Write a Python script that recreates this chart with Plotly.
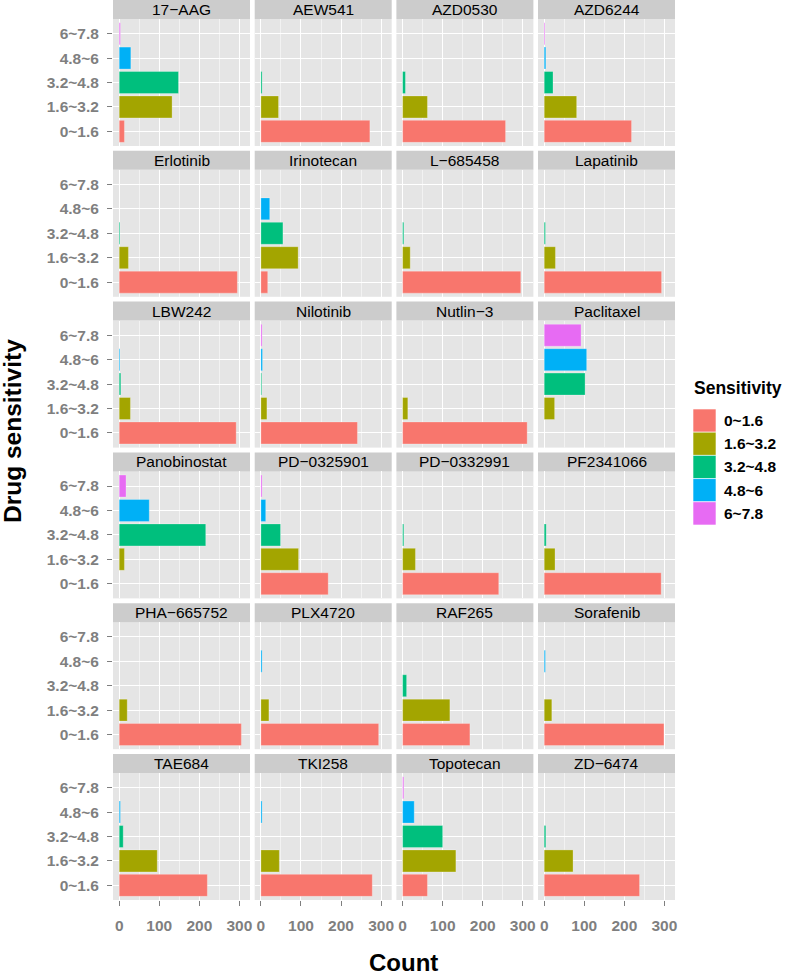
import plotly.graph_objects as go

# ---------------- data ----------------
drugs = ["17−AAG", "AEW541", "AZD0530", "AZD6244",
         "Erlotinib", "Irinotecan", "L−685458", "Lapatinib",
         "LBW242", "Nilotinib", "Nutlin−3", "Paclitaxel",
         "Panobinostat", "PD−0325901", "PD−0332991", "PF2341066",
         "PHA−665752", "PLX4720", "RAF265", "Sorafenib",
         "TAE684", "TKI258", "Topotecan", "ZD−6474"]
levels = ["0~1.6", "1.6~3.2", "3.2~4.8", "4.8~6", "6~7.8"]
level_colors = ["#F8766D", "#A3A500", "#00BF7D", "#00B0F6", "#E76BF3"]

count_0_1p6 = [13, 272, 257, 218, 295, 17, 295, 293, 292, 241, 311, 0,
               0, 168, 240, 292, 305, 294, 168, 299, 220, 278, 62, 238]
count_1p6_3p2 = [132, 44, 62, 81, 23, 93, 19, 28, 28, 15, 13, 26,
                 13, 94, 32, 27, 20, 20, 118, 19, 95, 46, 133, 72]
count_3p2_4p8 = [148, 3, 7, 22, 2, 55, 3, 3, 4, 2, 0, 102,
                 216, 49, 3, 5, 0, 0, 10, 0, 10, 0, 100, 4]
count_4p8_6 = [29, 0, 0, 4, 0, 22, 0, 0, 2, 4, 0, 106,
               75, 12, 0, 0, 0, 3, 0, 3, 3, 3, 29, 0]
count_6_7p8 = [3, 0, 0, 2, 0, 0, 0, 0, 0, 3, 0, 92,
               17, 3, 0, 0, 0, 0, 0, 0, 0, 0, 3, 0]
series = [count_0_1p6, count_1p6_3p2, count_3p2_4p8, count_4p8_6, count_6_7p8]

x_ticks = [0, 100, 200, 300]

# ---------------- geometry ----------------
W, H = 787, 976
col_left = [113, 254.7, 396.4, 538]
col_w = 137
row_top = [19 + 150.8 * k for k in range(6)]
panel_h = 127
strip_h = 19

FONT = "Liberation Sans, Arial, sans-serif"
GREY = "#7F7F7F"

fig = go.Figure()
layout = dict(
    width=W, height=H,
    margin=dict(l=0, r=0, t=0, b=0),
    paper_bgcolor="white", plot_bgcolor="#E5E5E5",
    showlegend=False, barmode="overlay",
    font=dict(family=FONT),
)
shapes, annotations = [], []

for i, drug in enumerate(drugs):
    n = i + 1
    r, c = divmod(i, 4)
    x0 = col_left[c]
    x1 = x0 + col_w
    top = row_top[r]
    bot = top + panel_h
    vals = [series[j][i] if series[j][i] > 0 else None for j in range(5)]
    fig.add_trace(go.Bar(
        x=vals, y=levels, orientation="h", width=0.9,
        marker=dict(color=level_colors, line=dict(color="rgba(255,255,255,0.45)", width=0.6)),
        xaxis=f"x{n}", yaxis=f"y{n}", hoverinfo="x+y",
    ))
    xa = dict(
        domain=[x0 / W, x1 / W], anchor=f"y{n}", range=[-15.5, 326.5],
        tickvals=x_ticks, ticktext=[str(v) for v in x_ticks],
        showticklabels=(r == 5), ticks="outside" if r == 5 else "",
        ticklen=5, tickcolor=GREY, tickwidth=1,
        tickfont=dict(size=15.5, color=GREY, family=FONT, weight="bold"),
        ticklabelstandoff=6,
        showgrid=True, gridcolor="white", gridwidth=1.1, zeroline=False,
        showline=False, automargin=False, fixedrange=True,
        minor=dict(tickvals=[50, 150, 250], showgrid=True, gridcolor="#F2F2F2", gridwidth=0.6, ticks=""),
    )
    ya = dict(
        domain=[1 - bot / H, 1 - top / H], anchor=f"x{n}",
        type="category", categoryorder="array", categoryarray=levels,
        range=[-0.6, 4.6],
        showticklabels=(c == 0), ticks="outside" if c == 0 else "",
        ticklen=5, tickcolor=GREY, tickwidth=1,
        tickfont=dict(size=15.5, color=GREY, family=FONT, weight="bold"),
        ticklabelstandoff=5,
        showgrid=True, gridcolor="white", gridwidth=1.1, zeroline=False,
        showline=False, automargin=False, fixedrange=True,
    )
    key = "" if n == 1 else str(n)
    layout[f"xaxis{key}"] = xa
    layout[f"yaxis{key}"] = ya
    # facet strip
    shapes.append(dict(type="rect", xref="paper", yref="paper",
                       x0=x0 / W, x1=x1 / W, y0=1 - top / H, y1=1 - (top - strip_h) / H,
                       fillcolor="#CCCCCC", line=dict(width=0), layer="below"))
    annotations.append(dict(text=drug, xref="paper", yref="paper",
                            x=(x0 + x1) / 2 / W, y=1 - (top - strip_h / 2) / H,
                            showarrow=False, xanchor="center", yanchor="middle",
                            font=dict(size=15.5, color="black", family=FONT)))

# axis titles
annotations.append(dict(text="Count", xref="paper", yref="paper", x=403 / W, y=1 - 962 / H,
                        showarrow=False, xanchor="center", yanchor="middle",
                        font=dict(size=24, color="black", family=FONT, weight="bold")))
annotations.append(dict(text="Drug sensitivity", xref="paper", yref="paper", x=13 / W, y=1 - 431 / H,
                        showarrow=False, xanchor="center", yanchor="middle", textangle=-90,
                        font=dict(size=24.5, color="black", family=FONT, weight="bold")))

# legend (drawn manually to match large key boxes)
annotations.append(dict(text="Sensitivity", xref="paper", yref="paper", x=692 / W, y=1 - 388 / H,
                        showarrow=False, xanchor="left", yanchor="middle",
                        font=dict(size=17.5, color="black", family=FONT, weight="bold")))
key_top, key_h = 409, 23.2
for j, (lev, col) in enumerate(zip(levels, level_colors)):
    y0 = key_top + j * key_h
    shapes.append(dict(type="rect", xref="paper", yref="paper",
                       x0=693 / W, x1=716 / W, y0=1 - (y0 + key_h) / H, y1=1 - y0 / H,
                       fillcolor=col, line=dict(color="rgba(255,255,255,0.6)", width=1)))
    annotations.append(dict(text=lev, xref="paper", yref="paper", x=722 / W, y=1 - (y0 + key_h / 2) / H,
                            showarrow=False, xanchor="left", yanchor="middle",
                            font=dict(size=15.5, color="black", family=FONT, weight="bold")))

layout["shapes"] = shapes
layout["annotations"] = annotations
fig.update_layout(**layout)
fig.write_html("out.html",
               config={"displayModeBar": False},
               post_script="document.body.style.margin='0px';document.body.style.padding='0px';")
